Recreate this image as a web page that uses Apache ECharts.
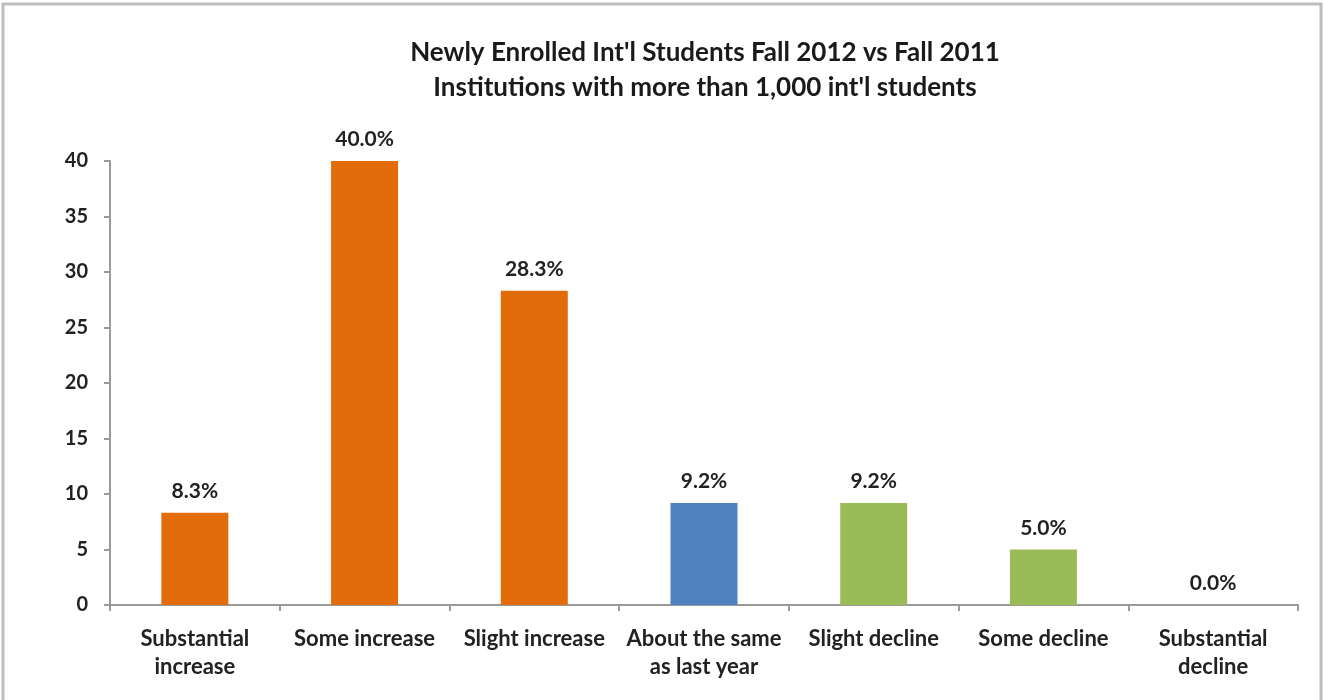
<!DOCTYPE html>
<html><head><meta charset="utf-8">
<script src="https://cdn.jsdelivr.net/npm/echarts@6/dist/echarts.min.js"></script>
<style>html,body{margin:0;padding:0;background:#fff}#c{width:1324px;height:700px}</style>
</head><body><div id="c"></div>
<script>
const categories = ['Substantial\nincrease','Some increase','Slight increase','About the same\nas last year','Slight decline','Some decline','Substantial\ndecline'];
const values = [8.3, 40.0, 28.3, 9.2, 9.2, 5.0, 0.0];
const barColors = ['#E36C0A','#E36C0A','#E36C0A','#4F81BD','#9BBB59','#9BBB59','#9BBB59'];
const titleLines = ["Newly Enrolled Int'l Students Fall 2012 vs Fall 2011","Institutions with more than 1,000 int'l students"];
const yTicks = {min:0, max:40, interval:5};

const font = 'Lato, "Open Sans", sans-serif';
const chart = echarts.init(document.getElementById('c'));
chart.setOption({
  backgroundColor:'#fff',
  animation:false,
  graphic:[{type:'rect',shape:{x:3,y:4,width:1318,height:710},style:{fill:'none',stroke:'#bdbdbd',lineWidth:3}}],
  title:{text:titleLines.join('\n'),left:700,textAlign:'center',top:30,
    textStyle:{fontFamily:font,fontSize:26,fontWeight:'bold',color:'#1a1a1a',lineHeight:35}},
  grid:{left:110,right:26,top:161,bottom:95},
  xAxis:{type:'category',data:categories,
    axisLine:{lineStyle:{color:'#9a9a9a',width:2}},
    axisTick:{show:true,length:6,lineStyle:{color:'#9a9a9a',width:2}},
    axisLabel:{interval:0,margin:20,fontFamily:font,fontSize:22,fontWeight:'bold',color:'#222',lineHeight:28}},
  yAxis:{type:'value',min:yTicks.min,max:yTicks.max,interval:yTicks.interval,
    axisLine:{show:true,lineStyle:{color:'#9a9a9a',width:2}},
    axisTick:{show:true,length:6,lineStyle:{color:'#9a9a9a',width:2}},
    splitLine:{show:false},
    axisLabel:{margin:22,fontFamily:font,fontSize:20,fontWeight:'bold',color:'#222'}},
  series:[{type:'bar',barWidth:67,
    data:values.map((v,i)=>({value:v,itemStyle:{color:barColors[i]}})),
    label:{show:true,position:'top',distance:11,fontFamily:font,fontSize:21,fontWeight:'bold',color:'#222',
      formatter:p=>p.value.toFixed(1)+'%'}}]
});
</script></body></html>
